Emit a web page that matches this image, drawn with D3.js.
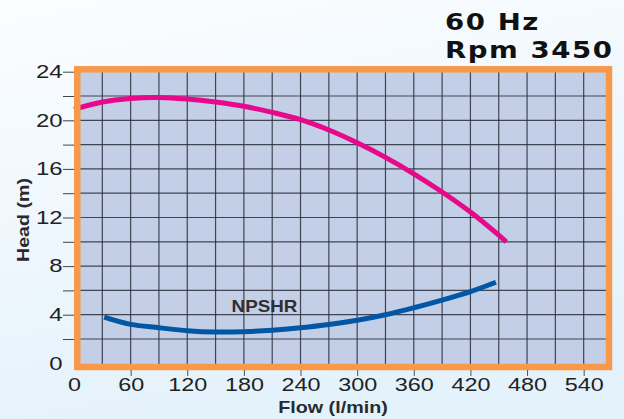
<!DOCTYPE html>
<html>
<head>
<meta charset="utf-8">
<script src="https://cdn.jsdelivr.net/npm/d3@7"></script>
<style>
  html, body { margin: 0; padding: 0; }
  svg { display: block; }
</style>
</head>
<body>
<svg id="chart" width="624" height="419"></svg>
<script>
// pump curve
let headFlow = [0, 30, 60, 90, 120, 150, 180, 210, 240, 270, 300, 330, 360, 390, 420, 450, 458]
let headVals = [20.9, 21.5, 21.8, 21.88, 21.75, 21.5, 21.15, 20.65, 20.05, 19.2, 18.15, 16.95, 15.6, 14.1, 12.45, 10.55, 10.0]

let npshrFlow = [32, 60, 90, 120, 150, 180, 210, 240, 270, 300, 330, 360, 390, 420, 447]
let npshrVals = [3.8, 3.2, 2.93, 2.68, 2.57, 2.6, 2.72, 2.93, 3.2, 3.55, 4.0, 4.57, 5.2, 5.9, 6.67]

let xTickLabels = [0, 60, 120, 180, 240, 300, 360, 420, 480, 540]
let yTickLabels = [0, 4, 8, 12, 16, 20, 24]

let titleLines = ["60 Hz", "Rpm 3450"]

let svg = d3.select("#chart")

let x = d3.scaleLinear().domain([0, 570]).range([74, 612])
let y = d3.scaleLinear().domain([0, 24]).range([363.3, 71.7])

// page background
let defs = svg.append("defs")
let grad = defs.append("linearGradient")
  .attr("id", "bg")
  .attr("x1", 0).attr("y1", 0).attr("x2", 0.3).attr("y2", 1)
grad.append("stop").attr("offset", "0%").attr("stop-color", "#fbfdff")
grad.append("stop").attr("offset", "100%").attr("stop-color", "#e4f2fb")

svg.append("rect")
  .attr("width", 624)
  .attr("height", 419)
  .style("fill", "url(#bg)")

// plot area
svg.append("rect")
  .attr("x", x(0))
  .attr("y", y(24) - 3)
  .attr("width", x(570) - x(0))
  .attr("height", y(0) - y(24) + 6)
  .style("fill", "#c3cfe6")

// grid
svg.append("g")
  .selectAll("line")
  .data(d3.range(30, 570, 30))
  .join("line")
  .attr("x1", d => x(d))
  .attr("x2", d => x(d))
  .attr("y1", y(24))
  .attr("y2", y(0) + 2)
  .style("stroke", "#2b2e3a")
  .style("stroke-width", 1.2)
  .style("opacity", 0.85)

svg.append("g")
  .selectAll("line")
  .data(d3.range(2, 24, 2))
  .join("line")
  .attr("x1", x(0))
  .attr("x2", x(570))
  .attr("y1", d => y(d))
  .attr("y2", d => y(d))
  .style("stroke", "#2b2e3a")
  .style("stroke-width", 1.2)
  .style("opacity", 0.85)

// curves
let line = d3.line()
  .x(d => x(d[0]))
  .y(d => y(d[1]))
  .curve(d3.curveCatmullRom)

svg.append("path")
  .datum(d3.zip(headFlow, headVals))
  .attr("d", line)
  .style("fill", "none")
  .style("stroke", "#e8088c")
  .style("stroke-width", 5)

svg.append("path")
  .datum(d3.zip(npshrFlow, npshrVals))
  .attr("d", line)
  .style("fill", "none")
  .style("stroke", "#0157a6")
  .style("stroke-width", 5)

svg.append("text")
  .attr("transform", "translate(" + x(167) + "," + y(4.25) + ") scale(1.14,1)")
  .text("NPSHR")
  .style("font-family", "Liberation Sans, Arial, sans-serif")
  .style("font-weight", "bold")
  .style("font-size", "16.5px")
  .style("fill", "#2e2e33")

// orange frame
svg.append("rect")
  .attr("x", x(0) + 3.3)
  .attr("y", y(24) - 2.4)
  .attr("width", x(570) - 3 - (x(0) + 3.3))
  .attr("height", y(0) + 3.7 - (y(24) - 2.4))
  .style("fill", "none")
  .style("stroke", "#f7984a")
  .style("stroke-width", 6.5)

// axes
let xAxis = d3.axisBottom(x)
  .tickValues(xTickLabels)
  .tickSize(6)
  .tickPadding(2.3)

let gx = svg.append("g")
  .attr("transform", "translate(0,370)")
  .call(xAxis)
gx.select(".domain").remove()
gx.selectAll(".tick line").style("stroke", "#555").filter(d => d === 0).remove()
gx.selectAll(".tick text")
  .attr("transform", "scale(1.3,1)")
  .style("font-family", "Liberation Sans, Arial, sans-serif")
  .style("font-size", "18px")
  .style("fill", "#222")

let yAxis = d3.axisLeft(y)
  .tickValues(d3.range(0, 26, 2))
  .tickSize(11)
  .tickFormat(d => yTickLabels.includes(d) ? d : "")

let gy = svg.append("g")
  .attr("transform", "translate(74,0)")
  .call(yAxis)
gy.select(".domain").remove()
gy.selectAll(".tick line").style("stroke", "#444").filter(d => d === 0).remove()
gy.selectAll(".tick text")
  .attr("x", -11.5 / 1.33)
  .attr("transform", "scale(1.33,1)")
  .style("font-family", "Liberation Sans, Arial, sans-serif")
  .style("font-size", "18px")
  .style("fill", "#222")

// axis titles
svg.append("text")
  .attr("transform", "translate(333,413) scale(1.16,1)")
  .attr("text-anchor", "middle")
  .text("Flow (l/min)")
  .style("font-family", "Liberation Sans, Arial, sans-serif")
  .style("font-weight", "bold")
  .style("font-size", "17px")
  .style("fill", "#2a2a2e")

svg.append("text")
  .attr("transform", "translate(29,220) rotate(-90) scale(1.155,1)")
  .attr("text-anchor", "middle")
  .text("Head (m)")
  .style("font-family", "Liberation Sans, Arial, sans-serif")
  .style("font-weight", "bold")
  .style("font-size", "17px")
  .style("fill", "#2a2a2e")

// title
svg.append("g")
  .selectAll("text")
  .data(titleLines)
  .join("text")
  .attr("transform", (d, i) => "translate(445," + (29.5 + i * 28) + ") scale(1.2,1)")
  .text(d => d)
  .style("font-family", "DejaVu Sans, sans-serif")
  .style("font-weight", "bold")
  .style("font-size", "23px")
  .style("letter-spacing", "1.3px")
  .style("fill", "#111")
</script>
</body>
</html>
